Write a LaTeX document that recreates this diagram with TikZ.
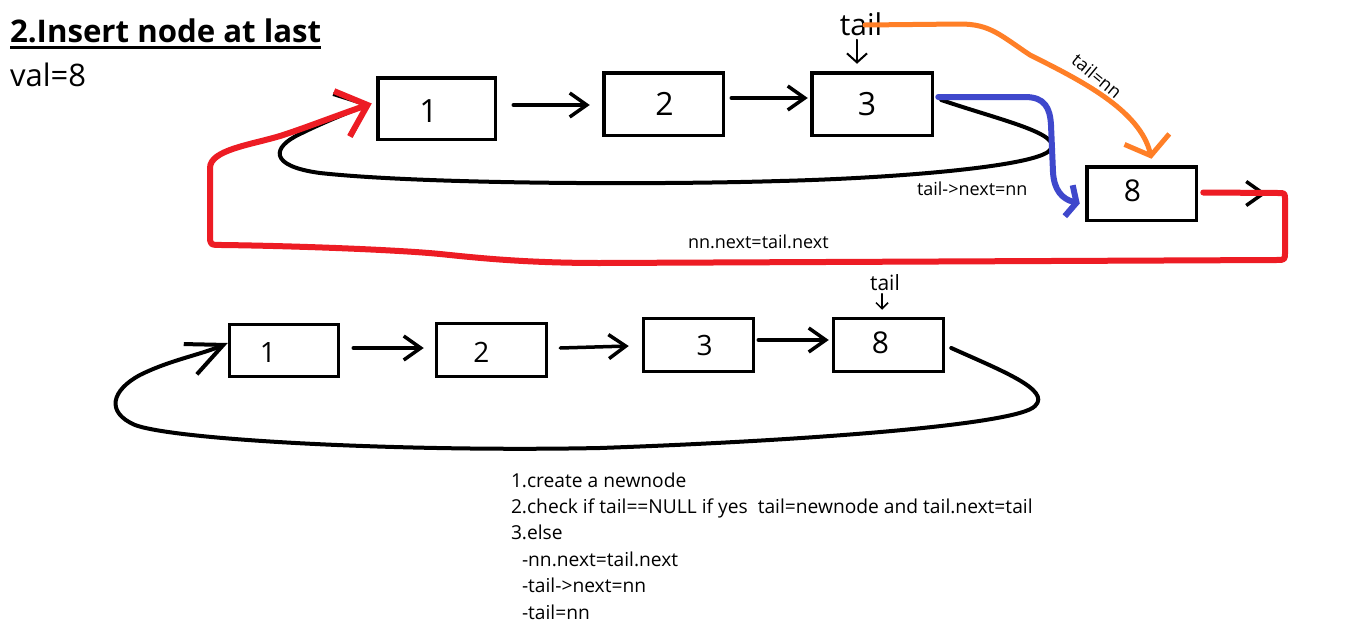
\documentclass[tikz,border=0pt]{standalone}
\usepackage{fontspec}
\setmainfont{Open Sans}
\usetikzlibrary{arrows.meta,calc}
\definecolor{pred}{HTML}{ED1C24}
\definecolor{pblue}{HTML}{3F48CC}
\definecolor{porange}{HTML}{FF7F27}
\newcommand{\myfs}[1]{\fontsize{#1}{#1}\selectfont}
\begin{document}
\begin{tikzpicture}[x=1pt,y=-1pt,
  box/.style={draw, rectangle, line width=3.5pt, inner sep=0pt, outer sep=0pt},
  arr/.style={line width=3.5pt, line cap=round, line join=round, -{Straight Barb[length=17pt,width=24pt]}},
  loop/.style={line width=4pt, line cap=round, line join=round},
  ptr/.style={line width=2pt, line cap=round, -{Straight Barb[length=9pt,width=20pt]}},
  txt/.style={inner sep=0pt, outer sep=0pt},
]
\useasboundingbox (0,0) rectangle (1350,629);
\fill[white] (0,0) rectangle (1350,629);

% title
\node[txt, anchor=base west, font=\bfseries\myfs{31.2}] (title) at (10,42) {2.Insert node at last};
\draw[line width=3pt] ($(title.base west)+(0,5)$) -- ($(title.base east)+(0,5)$);
\node[txt, anchor=base west, font=\myfs{31}] (val) at (10,86) {val=8};

% top row
\node[box, minimum width=117.5pt, minimum height=61.5pt, label={[font=\myfs{32}, xshift=-8pt, yshift=-3pt]center:1}] (b1) at (436.5,108.5) {};
\node[box, minimum width=119.5pt, minimum height=62.5pt, label={[font=\myfs{32}, xshift=1pt]center:2}] (b2) at (663.5,104) {};
\node[box, minimum width=120.5pt, minimum height=62.5pt, label={[font=\myfs{32}, xshift=-5pt]center:3}] (b3) at (872,104) {};
\node[box, minimum width=109.5pt, minimum height=53.5pt, label={[font=\myfs{30}, xshift=-9pt, yshift=3pt]center:8}] (b8) at (1141.5,193.5) {};

\draw[arr] ($(b1.east)+(18,-3.5)$) -- ($(b2.west)+(-14,1)$);
\draw[arr] ($(b2.east)+(8,-6)$) -- ($(b3.west)+(-4,-6)$);
\coordinate (b8out) at ($(b8.east)+(70,0)$);
\draw[arr] ($(b8.east)+(30,0)$) -- (b8out);

% top black loop 3 -> 1
\draw[loop, -{Straight Barb[length=27pt,width=46pt]}]
  ($(b3.east)+(9,-4)$) .. controls (1000,120) and (1064,134) .. (1050,150)
  .. controls (1038,166) and (900,178) .. (780,181)
  .. controls (650,185) and (420,184) .. (320,173)
  .. controls (268,166) and (272,147) .. (300,134)
  .. controls (320,124) and (340,116) .. ($(b1.west)+(-8,-5)$);

% blue tail->next=nn
\draw[line width=6pt, pblue, line cap=round, line join=round, -{Straight Barb[length=8pt,width=32pt]}]
  ($(b3.east)+(6,-7)$) -- (1025,97) .. controls (1045,97) and (1050,108) .. (1051,125)
  -- (1053,172) .. controls (1054,190) and (1062,199) .. ($(b8.west)+(-7,10)$);

% red nn.next = tail.next
\draw[line width=6pt, pred, line cap=round, line join=round, -{Straight Barb[length=27pt,width=48pt]}]
  ($(b8.east)+(7,-1)$) -- (1278,193) .. controls (1285,193) .. (1285,200) -- (1285,252)
  .. controls (1285,260) .. (1276,260) -- (600,263)
  .. controls (520,263) and (470,257) .. (440,254)
  .. controls (400,250) and (300,246) .. (222,245)
  .. controls (210,245) .. (210,235) -- (210,168)
  .. controls (210,150) and (250,145) .. (280,136)
  .. controls (305,128) and (330,118) .. ($(b1.west)+(-6,-5)$);

% top tail label and pointer
\node[txt, anchor=base, font=\myfs{30}] (tailtop) at (861,35) {tail};
\draw[ptr] ($(b3.north)+(-15,-33)$) -- ($(b3.north)+(-15,-9)$);

% orange tail=nn
\draw[line width=5pt, porange, line cap=round, line join=round, -{Straight Barb[length=17pt,width=46pt]}]
  ($(tailtop.base)+(4,-10)$) -- (960,24) .. controls (990,24) and (1000,35) .. (1030,55)
  .. controls (1080,80) and (1140,110) .. ($(b8.north)+(10,-8)$);

\node[txt, font=\myfs{18}, rotate=-39.5] (tailnn) at (1097,76) {tail=nn};
\node[txt, anchor=base west, font=\myfs{18}] (tnext) at (917,195) {tail->next=nn};
\node[txt, anchor=base west, font=\myfs{18}] (nnnext) at (688,248) {nn.next=tail.next};

% bottom row
\node[box, minimum width=108.5pt, minimum height=51.5pt, line width=3pt, label={[font=\myfs{28}, xshift=-16pt, yshift=-2pt]center:1}] (c1) at (284,350.5) {};
\node[box, minimum width=109.5pt, minimum height=52.5pt, line width=3pt, label={[font=\myfs{28}, xshift=-10pt, yshift=-2pt]center:2}] (c2) at (491.5,350) {};
\node[box, minimum width=109.5pt, minimum height=52.5pt, line width=3pt, label={[font=\myfs{28}, xshift=6pt]center:3}] (c3) at (698.5,345) {};
\node[box, minimum width=109.5pt, minimum height=52.5pt, line width=3pt, label={[font=\myfs{30}, xshift=-8pt, yshift=2pt]center:8}] (c8) at (888.5,345) {};

\draw[arr] ($(c1.east)+(15,-2.5)$) -- ($(c2.west)+(-13,-2)$);
\draw[arr] ($(c2.east)+(14,-2)$) -- ($(c3.west)+(-15,1)$);
\draw[arr] ($(c3.east)+(5,-5)$) -- ($(c8.west)+(-5,-5)$);

\node[txt, anchor=base, font=\myfs{21}] (tailbot) at (885,290) {tail};
\draw[line width=1.5pt, line cap=round, -{Straight Barb[length=6pt,width=12pt]}] ($(c8.north)+(-6.5,-25)$) -- ($(c8.north)+(-6.5,-9)$);

% bottom loop 8 -> 1
\draw[loop, -{Straight Barb[length=36pt,width=33pt]}]
  ($(c8.east)+(8,3)$) .. controls (1000,370) and (1052,390) .. (1035,406)
  .. controls (1018,425) and (800,441) .. (600,448)
  .. controls (400,452) and (175,440) .. (135,425)
  .. controls (105,412) and (112,390) .. (140,375)
  .. controls (170,360) and (200,355) .. ($(c1.west)+(-2,-7.5)$);

% steps
\node[txt, anchor=base west, font=\myfs{19.2}] (l1) at (511,487) {1.create a newnode};
\node[txt, anchor=base west, font=\myfs{19.2}] (l2) at (511,513.4) {2.check if tail==NULL if yes\ \ tail=newnode and tail.next=tail};
\node[txt, anchor=base west, font=\myfs{19.2}] (l3) at (511,539.8) {3.else};
\node[txt, anchor=base west, font=\myfs{19.2}] (l4) at (522,566.2) {-nn.next=tail.next};
\node[txt, anchor=base west, font=\myfs{19.2}] (l5) at (522,592.6) {-tail->next=nn};
\node[txt, anchor=base west, font=\myfs{19.2}] (l6) at (522,619) {-tail=nn};
\end{tikzpicture}
\end{document}
